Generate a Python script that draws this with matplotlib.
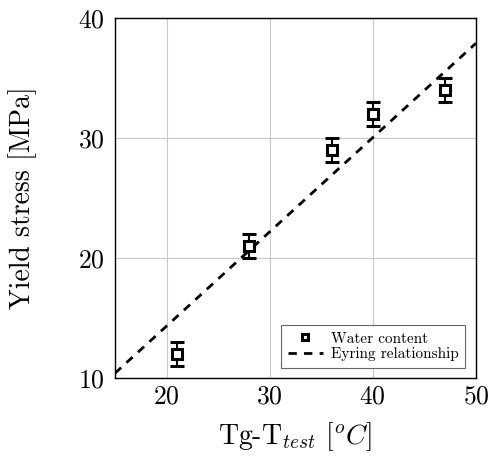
import numpy as np
import matplotlib
matplotlib.use("Agg")
from matplotlib import pyplot as plt
from matplotlib.lines import Line2D

plt.rcParams['font.family'] = 'serif'
plt.rcParams['font.serif'] = ['cmr10', 'DejaVu Serif']
plt.rcParams['mathtext.fontset'] = 'cm'
plt.rcParams['axes.formatter.use_mathtext'] = True

# measured points
dT = [21, 28, 36, 40, 47]
stress = [12, 21, 29, 32, 34]
stress_err = [1, 1, 1, 1, 1]

# Eyring relationship (end points)
dT_fit = [15, 50]
stress_fit = [10.4, 37.9]

fig = plt.figure(figsize=(4.91, 4.57), dpi=100)
ax = fig.add_axes([115 / 491, 79 / 457, 361 / 491, 360 / 457])

ax.errorbar(dT, stress, yerr=stress_err, fmt='s', mfc='white', mec='black',
            ms=7.5, mew=2.2, ecolor='black', elinewidth=1.5, capsize=5,
            capthick=1.5, zorder=3)
ax.plot(dT_fit, stress_fit, '--', color='black', lw=2, dashes=(3, 2.6),
        zorder=2)

ax.set_xlim(15, 50)
ax.set_ylim(10, 40)
ax.set_xticks([20, 30, 40, 50])
ax.set_yticks([10, 20, 30, 40])
ax.grid(True, color='#c8c8c8', lw=0.8)
ax.set_axisbelow(True)
ax.tick_params(length=0, labelsize=18.5)
ax.tick_params(axis='x', pad=5)
ax.tick_params(axis='y', pad=7.5)
for sp in ax.spines.values():
    sp.set_linewidth(1.0)

ax.set_xlabel(r'Tg-T$_{test}$ [$^{o}C$]', fontsize=20)
ax.set_ylabel('Yield stress [MPa]', fontsize=20)
ax.xaxis.set_label_coords(0.5, -0.118)
ax.yaxis.set_label_coords(-0.215, 0.5)

handles = [
    Line2D([], [], ls='none', marker='s', mfc='white', mec='black', ms=5,
           mew=2.2),
    Line2D([], [], ls='--', color='black', lw=2, dashes=(3, 2.6)),
]
leg = ax.legend(handles, ['Water content', 'Eyring relationship'],
                loc='lower right', fontsize=11, fancybox=False,
                edgecolor='#666666', framealpha=1, handlelength=2.3,
                handletextpad=0.5, labelspacing=0.1, borderpad=0.45,
                borderaxespad=0, bbox_to_anchor=(0.97, 0.028))
leg.get_frame().set_linewidth(0.8)

fig.savefig('out.png', dpi=100)
